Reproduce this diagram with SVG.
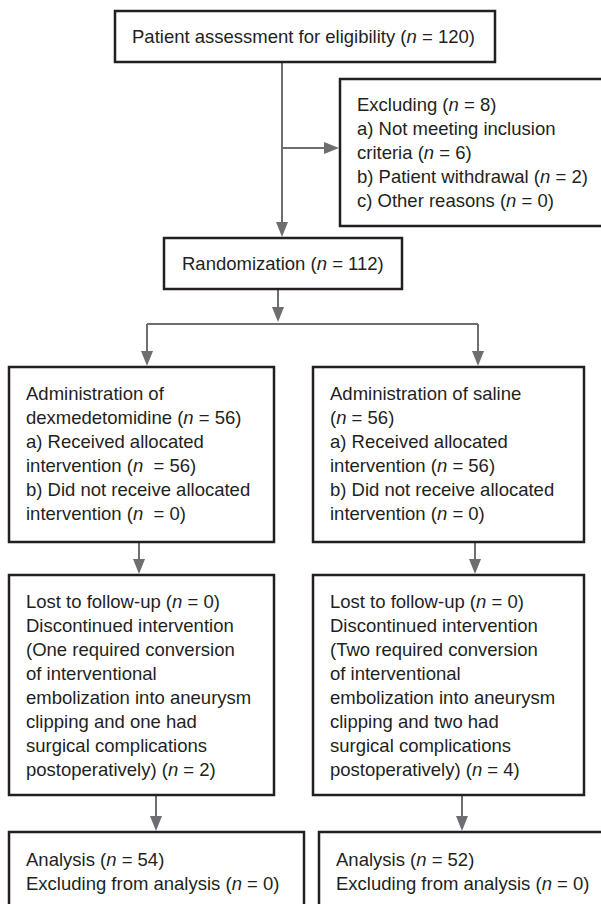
<svg xmlns="http://www.w3.org/2000/svg" width="601" height="904" viewBox="0 0 601 904">
<style>
.box{fill:#fff;stroke:#231f20;stroke-width:2.5}
.t{font-family:"Liberation Sans",Arial,sans-serif;font-size:18.5px;fill:#231f20;white-space:pre}
.i{font-style:italic}
.c{fill:none;stroke:#6d6e71;stroke-width:2}
</style>
<defs>
<marker id="ah" markerUnits="userSpaceOnUse" markerWidth="15" markerHeight="12" refX="12" refY="6" orient="auto" viewBox="0 0 15 12">
<path d="M0,0 L15,6 L0,12 z" fill="#6d6e71"/>
</marker>
</defs>
<rect width="601" height="904" fill="#fff"/>
<g id="connectors">
<path class="c" d="M282,63 V234" marker-end="url(#ah)"/>
<path class="c" d="M282,148 H336" marker-end="url(#ah)"/>
<path class="c" d="M278,290 V319" marker-end="url(#ah)"/>
<path class="c" d="M147,324 H478"/>
<path class="c" d="M147,324 V363" marker-end="url(#ah)"/>
<path class="c" d="M478,324 V363" marker-end="url(#ah)"/>
<path class="c" d="M139,543 V571" marker-end="url(#ah)"/>
<path class="c" d="M475,543 V571" marker-end="url(#ah)"/>
<path class="c" d="M156,796 V828" marker-end="url(#ah)"/>
<path class="c" d="M462,796 V828" marker-end="url(#ah)"/>
</g>
<g id="assessment">
<rect class="box" x="115" y="11" width="380" height="51"/>
<text class="t" x="132" y="43">Patient assessment for eligibility (<tspan class="i">n</tspan> = 120)</text>
</g>
<g id="excluding">
<rect class="box" x="340" y="79" width="266" height="147"/>
<text class="t" x="357" y="111">Excluding (<tspan class="i">n</tspan> = 8)</text>
<text class="t" x="357" y="135">a) Not meeting inclusion</text>
<text class="t" x="357" y="159">criteria (<tspan class="i">n</tspan> = 6)</text>
<text class="t" x="357" y="183">b) Patient withdrawal (<tspan class="i">n</tspan> = 2)</text>
<text class="t" x="357" y="207">c) Other reasons (<tspan class="i">n</tspan> = 0)</text>
</g>
<g id="randomization">
<rect class="box" x="164" y="238" width="238" height="51"/>
<text class="t" x="182" y="270">Randomization (<tspan class="i">n</tspan> = 112)</text>
</g>
<g id="dex">
<rect class="box" x="9" y="367" width="265" height="175"/>
<text class="t" x="26" y="400">Administration of</text>
<text class="t" x="26" y="424">dexmedetomidine (<tspan class="i">n</tspan> = 56)</text>
<text class="t" x="26" y="448">a) Received allocated</text>
<text class="t" x="26" y="472" xml:space="preserve">intervention (<tspan class="i">n</tspan>  = 56)</text>
<text class="t" x="26" y="496">b) Did not receive allocated</text>
<text class="t" x="26" y="520" xml:space="preserve">intervention (<tspan class="i">n</tspan>  = 0)</text>
</g>
<g id="saline">
<rect class="box" x="313" y="367" width="271" height="175"/>
<text class="t" x="330" y="400">Administration of saline</text>
<text class="t" x="330" y="424">(<tspan class="i">n</tspan> = 56)</text>
<text class="t" x="330" y="448">a) Received allocated</text>
<text class="t" x="330" y="472">intervention (<tspan class="i">n</tspan> = 56)</text>
<text class="t" x="330" y="496">b) Did not receive allocated</text>
<text class="t" x="330" y="520">intervention (<tspan class="i">n</tspan> = 0)</text>
</g>
<g id="followup-dex">
<rect class="box" x="9" y="575" width="265" height="220"/>
<text class="t" x="26" y="608">Lost to follow-up (<tspan class="i">n</tspan> = 0)</text>
<text class="t" x="26" y="632">Discontinued intervention</text>
<text class="t" x="26" y="656">(One required conversion</text>
<text class="t" x="26" y="680">of interventional</text>
<text class="t" x="26" y="704">embolization into aneurysm</text>
<text class="t" x="26" y="728">clipping and one had</text>
<text class="t" x="26" y="752">surgical complications</text>
<text class="t" x="26" y="776">postoperatively) (<tspan class="i">n</tspan> = 2)</text>
</g>
<g id="followup-saline">
<rect class="box" x="313" y="575" width="271" height="220"/>
<text class="t" x="330" y="608">Lost to follow-up (<tspan class="i">n</tspan> = 0)</text>
<text class="t" x="330" y="632">Discontinued intervention</text>
<text class="t" x="330" y="656">(Two required conversion</text>
<text class="t" x="330" y="680">of interventional</text>
<text class="t" x="330" y="704">embolization into aneurysm</text>
<text class="t" x="330" y="728">clipping and two had</text>
<text class="t" x="330" y="752">surgical complications</text>
<text class="t" x="330" y="776">postoperatively) (<tspan class="i">n</tspan> = 4)</text>
</g>
<g id="analysis-dex">
<rect class="box" x="9" y="832" width="295" height="90"/>
<text class="t" x="26" y="866">Analysis (<tspan class="i">n</tspan> = 54)</text>
<text class="t" x="26" y="890">Excluding from analysis (<tspan class="i">n</tspan> = 0)</text>
</g>
<g id="analysis-saline">
<rect class="box" x="319" y="832" width="290" height="90"/>
<text class="t" x="336" y="866">Analysis (<tspan class="i">n</tspan> = 52)</text>
<text class="t" x="336" y="890">Excluding from analysis (<tspan class="i">n</tspan> = 0)</text>
</g>
</svg>
